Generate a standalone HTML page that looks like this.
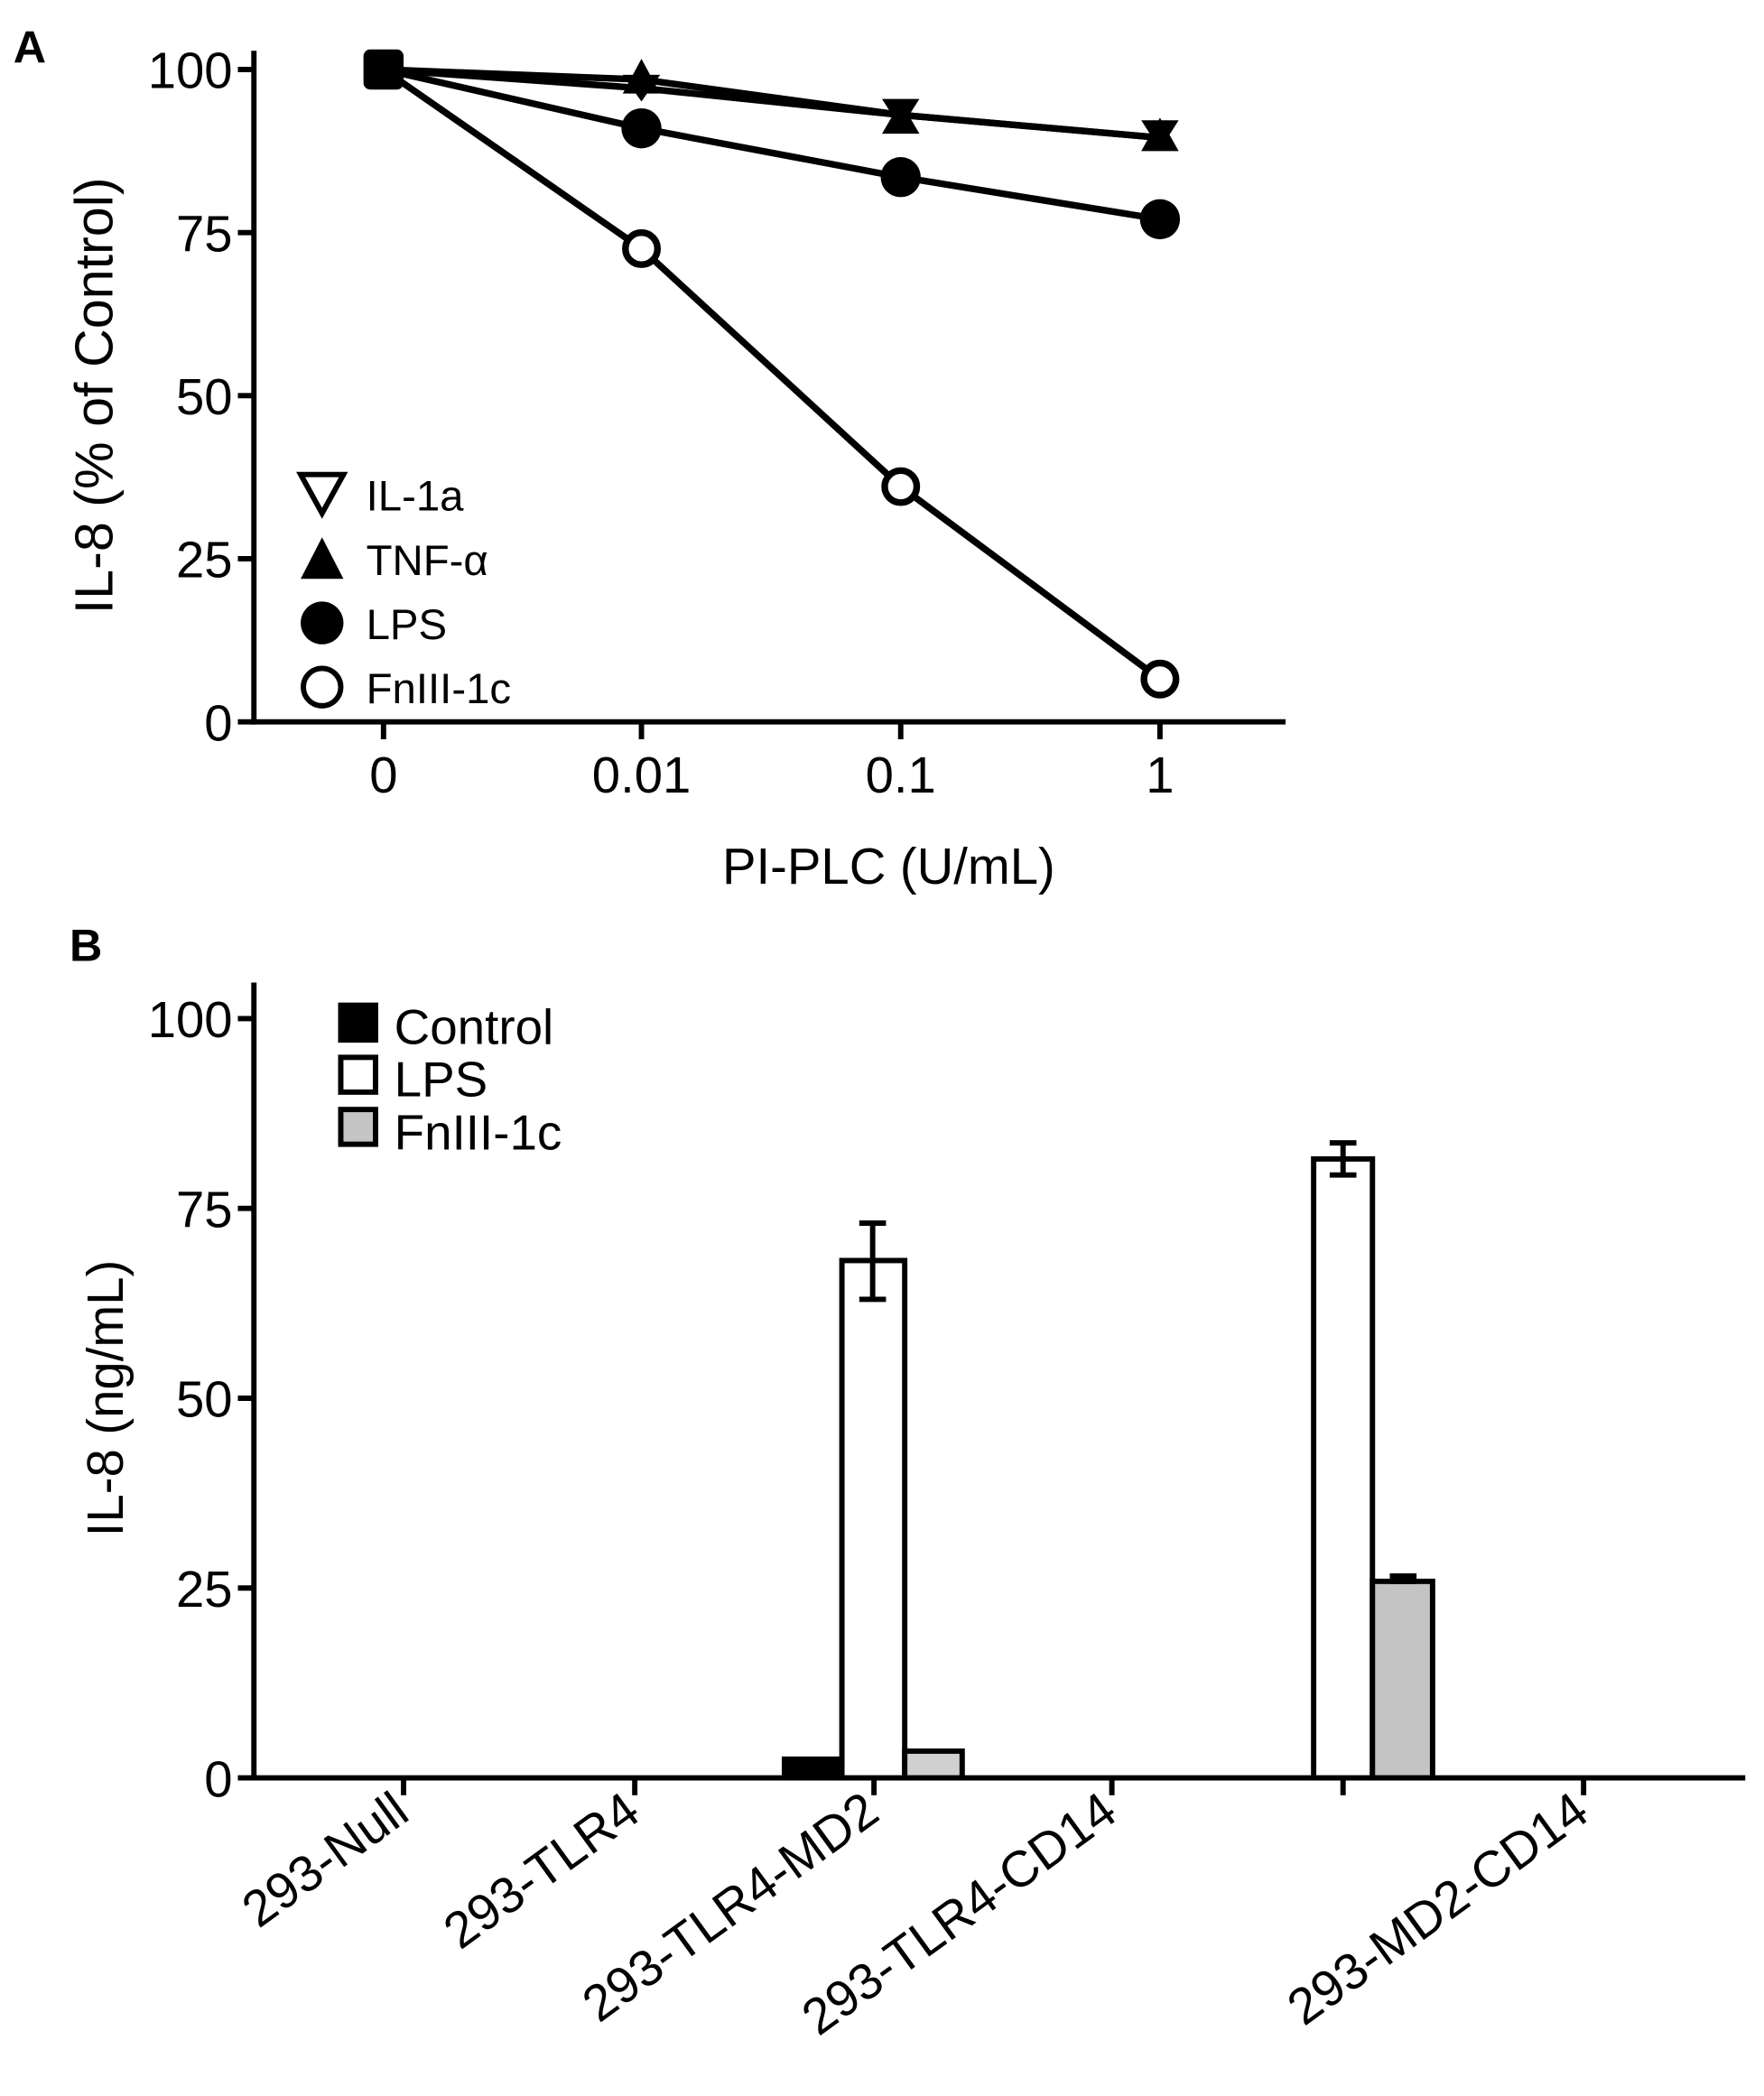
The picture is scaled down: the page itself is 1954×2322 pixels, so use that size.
<!DOCTYPE html>
<html><head><meta charset="utf-8"><style>
html,body{margin:0;padding:0;background:#fff;}
svg{display:block;}
text{font-family:"Liberation Sans",Arial,sans-serif;fill:#000;}
</style></head><body>
<svg width="1954" height="2322" viewBox="0 0 1320 1568" preserveAspectRatio="none" xmlns="http://www.w3.org/2000/svg">
<!-- Panel A -->
<text x="10" y="47" font-size="34" font-weight="bold">A</text>
<g stroke="#000" stroke-width="4" fill="none">
<line x1="190" y1="38" x2="190" y2="542"/>
<line x1="188" y1="540" x2="962" y2="540"/>
<line x1="178" y1="52" x2="190" y2="52"/>
<line x1="178" y1="174" x2="190" y2="174"/>
<line x1="178" y1="296" x2="190" y2="296"/>
<line x1="178" y1="418" x2="190" y2="418"/>
<line x1="178" y1="540" x2="190" y2="540"/>
<line x1="287" y1="540" x2="287" y2="553"/>
<line x1="480" y1="540" x2="480" y2="553"/>
<line x1="674" y1="540" x2="674" y2="553"/>
<line x1="868" y1="540" x2="868" y2="553"/>
</g>
<g font-size="38" text-anchor="end">
<text x="174" y="66">100</text>
<text x="174" y="188">75</text>
<text x="174" y="310">50</text>
<text x="174" y="432">25</text>
<text x="174" y="554">0</text>
</g>
<g font-size="38" text-anchor="middle">
<text x="287" y="593">0</text>
<text x="480" y="593">0.01</text>
<text x="674" y="593">0.1</text>
<text x="868" y="593">1</text>
<text x="665" y="661">PI-PLC (U/mL)</text>
</g>
<text transform="translate(84,296) rotate(-90)" font-size="40" text-anchor="middle">IL-8 (% of Control)</text>
<g stroke="#000" stroke-width="5" fill="none">
<polyline points="287,52 480,59.5 674,86 868,103"/>
<polyline points="287,52 480,66 674,86 868,103"/>
<polyline points="287,52 480,96 674,132.5 868,164"/>
<polyline points="287,52 480,186 674,364 868,508"/>
</g>
<g fill="#000">
<circle cx="480" cy="96" r="15"/><circle cx="674" cy="132.5" r="15"/><circle cx="868" cy="164" r="15"/>
<polygon points="480,44 466,70 494,70"/><polygon points="674,76 660,100 688,100"/><polygon points="868,88 854,113 882,113"/>
<polygon points="466,56 494,56 480,76"/><polygon points="660,74 688,74 674,96"/><polygon points="854,90 882,90 868,112"/>
<rect x="272" y="37" width="30" height="30" rx="5"/>
</g>
<g fill="#fff" stroke="#000" stroke-width="5">
<circle cx="480" cy="186" r="12"/><circle cx="674" cy="364" r="12"/><circle cx="868" cy="508" r="12"/>
</g>
<!-- legend A -->
<polygon points="225,355 257,355 241,384" fill="#fff" stroke="#000" stroke-width="4"/>
<polygon points="241,402 225,433 257,433" fill="#000"/>
<circle cx="241" cy="466" r="16" fill="#000"/>
<circle cx="241" cy="514" r="14" fill="#fff" stroke="#000" stroke-width="4"/>
<g font-size="32">
<text x="274" y="382">IL-1a</text>
<text x="274" y="430">TNF-α</text>
<text x="274" y="478">LPS</text>
<text x="274" y="526">FnIII-1c</text>
</g>
<!-- Panel B -->
<text x="52" y="719" font-size="34" font-weight="bold">B</text>
<g stroke="#000" stroke-width="4" fill="none">
<line x1="190" y1="735" x2="190" y2="1332"/>
<line x1="188" y1="1330" x2="1306" y2="1330"/>
<line x1="178" y1="762" x2="190" y2="762"/>
<line x1="178" y1="904" x2="190" y2="904"/>
<line x1="178" y1="1046" x2="190" y2="1046"/>
<line x1="178" y1="1188" x2="190" y2="1188"/>
<line x1="178" y1="1330" x2="190" y2="1330"/>
<line x1="302" y1="1330" x2="302" y2="1343"/>
<line x1="475" y1="1330" x2="475" y2="1343"/>
<line x1="654" y1="1330" x2="654" y2="1343"/>
<line x1="832" y1="1330" x2="832" y2="1343"/>
<line x1="1005" y1="1330" x2="1005" y2="1343"/>
<line x1="1185" y1="1330" x2="1185" y2="1343"/>
</g>
<g font-size="38" text-anchor="end">
<text x="174" y="776">100</text>
<text x="174" y="918">75</text>
<text x="174" y="1060">50</text>
<text x="174" y="1202">25</text>
<text x="174" y="1344">0</text>
</g>
<text transform="translate(92,1046) rotate(-90)" font-size="38" text-anchor="middle">IL-8 (ng/mL)</text>
<!-- bars -->
<g stroke="#000" stroke-width="4">
<rect x="587" y="1316" width="43" height="14" fill="#000"/>
<rect x="630" y="943" width="47" height="387" fill="#fff"/>
<rect x="677" y="1310" width="43" height="20" fill="#d0d0d0"/>
<rect x="983" y="867" width="44" height="463" fill="#fff"/>
<rect x="1027" y="1183" width="45" height="147" fill="#c4c4c4"/>
<line x1="653" y1="915" x2="653" y2="972"/><line x1="643" y1="915" x2="663" y2="915"/><line x1="643" y1="972" x2="663" y2="972"/>
<line x1="1005" y1="855" x2="1005" y2="879"/><line x1="995" y1="855" x2="1015" y2="855"/><line x1="995" y1="879" x2="1015" y2="879"/>
<line x1="1040" y1="1181" x2="1060" y2="1181" stroke-width="8"/>
</g>
<!-- legend B -->
<rect x="255" y="752" width="26" height="26" fill="#000" stroke="#000" stroke-width="4"/>
<rect x="255" y="791" width="26" height="26" fill="#fff" stroke="#000" stroke-width="4"/>
<rect x="255" y="830" width="26" height="26" fill="#c4c4c4" stroke="#000" stroke-width="4"/>
<g font-size="37">
<text x="295" y="781">Control</text>
<text x="295" y="820">LPS</text>
<text x="295" y="860">FnIII-1c</text>
</g>
<g font-size="38" text-anchor="end">
<text transform="translate(308,1360) rotate(-36)">293-Null</text>
<text transform="translate(481,1360) rotate(-36)">293-TLR4</text>
<text transform="translate(660,1360) rotate(-36)">293-TLR4-MD2</text>
<text transform="translate(838,1360) rotate(-36)">293-TLR4-CD14</text>
<text transform="translate(1191,1360) rotate(-36)">293-MD2-CD14</text>
</g>
</svg>
</body></html>
